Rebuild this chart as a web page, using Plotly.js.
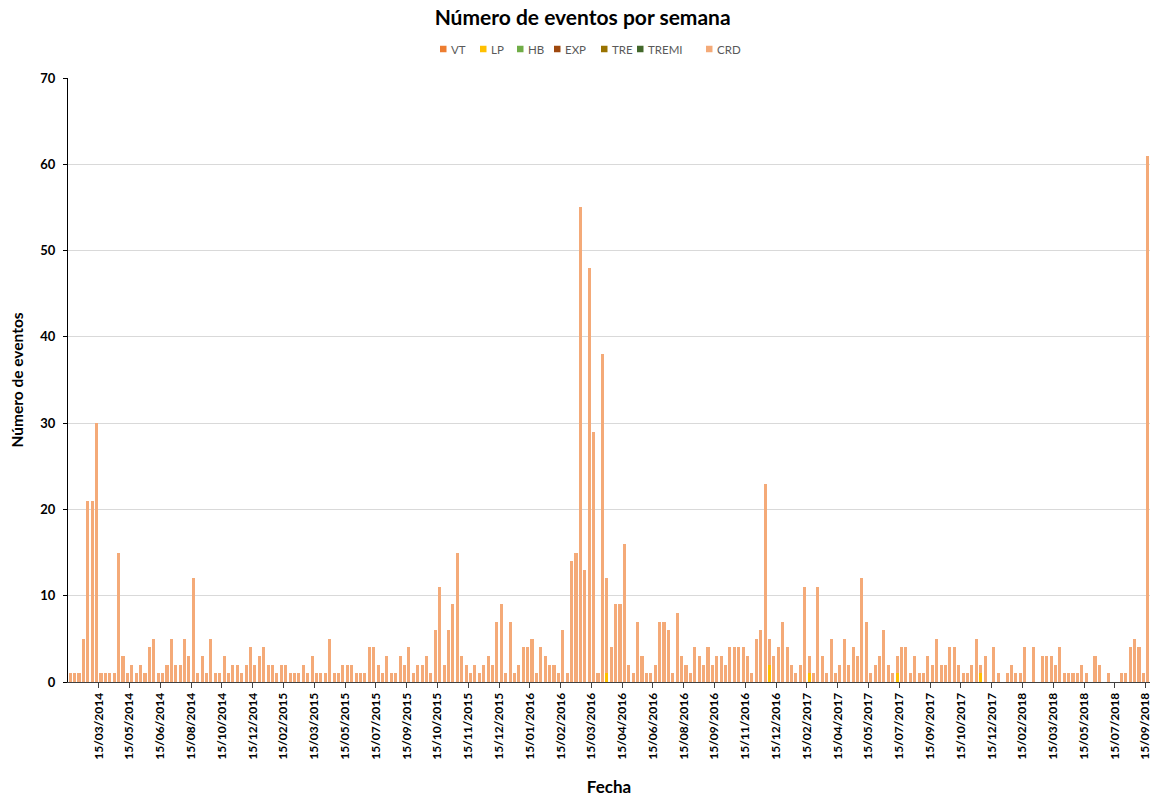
<!DOCTYPE html>
<html>
<head>
<meta charset="utf-8">
<script src="https://cdn.plot.ly/plotly-3.0.1.min.js"></script>
<style>html,body{margin:0;padding:0;background:#fff;}#chart{width:1156px;height:798px;}</style>
</head>
<body>
<div id="chart"></div>
<script>
// Weekly event counts (CRD), 246 weeks
const crdCounts = [
  1,1,1,5,21,21,30,1,1,1,1,15,3,1,2,1,2,1,4,5,1,1,2,5,2,2,5,3,12,1,3,1,5,1,1,3,1,2,2,1,2,4,
  2,3,4,2,2,1,2,2,1,1,1,2,1,3,1,1,1,5,1,1,2,2,2,1,1,1,4,4,2,1,3,1,1,3,2,4,1,2,2,3,1,
  6,11,2,6,9,15,3,2,1,2,1,2,3,2,7,9,1,7,1,2,4,4,5,1,4,3,2,2,1,6,1,14,15,55,13,48,29,1,38,11,4,
  9,9,16,2,1,7,3,1,1,2,7,7,6,1,8,3,2,1,4,3,2,4,2,3,3,2,4,4,4,4,3,1,5,6,23,3,3,4,7,4,2,
  1,2,11,2,1,11,3,1,5,1,2,5,2,4,3,12,7,1,2,3,6,2,1,2,4,4,1,3,1,1,3,2,5,2,2,4,4,2,1,1,2,
  5,1,3,0,4,1,0,1,2,1,1,4,0,4,0,3,3,3,2,4,1,1,1,1,2,1,0,3,2,0,1,0,0,1,1,4,5,4,1,61
];
// LP events (sparse): week index and count
const lpWeeks = [122, 159, 168, 188, 207];
const lpCounts = [1, 2, 1, 1, 1];
const tickLabels = [
  '15/03/2014','15/05/2014','15/06/2014','15/08/2014','15/10/2014','15/12/2014','15/02/2015',
  '15/03/2015','15/05/2015','15/07/2015','15/09/2015','15/10/2015','15/11/2015','15/12/2015',
  '15/01/2016','15/02/2016','15/03/2016','15/04/2016','15/06/2016','15/08/2016','15/09/2016',
  '15/11/2016','15/12/2016','15/02/2017','15/04/2017','15/05/2017','15/07/2017','15/09/2017',
  '15/10/2017','15/12/2017','15/02/2018','15/03/2018','15/05/2018','15/07/2018','15/09/2018'
];
const seriesNames = ['VT','LP','HB','EXP','TRE','TREMI','CRD'];
const seriesColors = ['#ED7D31','#FFC000','#70AD47','#9E480E','#997300','#43682B','#F4AA78'];

const weeks = crdCounts.map((_, i) => i);
// VT, HB, EXP, TRE, TREMI: no events recorded in any week
const noEvents = weeks.map(() => 0);
const weeksPerTick = 7;
const tickVals = tickLabels.map((_, i) => (i + 1) * weeksPerTick - 0.5);

const traces = seriesNames.map((name, s) => {
  let x = weeks, y = noEvents;
  if (name === 'LP') { x = lpWeeks; y = lpCounts; }
  if (name === 'CRD') { x = weeks; y = crdCounts; }
  return {type: 'bar', name: name, x: x, y: y, showlegend: false,
          marker: {color: seriesColors[s], line: {width: 0}}, hoverinfo: 'x+y+name'};
});

// ---- Legend (Excel style: small squares, tight spacing) ----
const W = 1156, H = 798, M = {l: 68, r: 6, t: 78, b: 116};
const plotW = W - M.l - M.r, plotH = H - M.t - M.b;
const px2x = px => (px - M.l) / plotW;
const px2y = py => (H - M.b - py) / plotH;
const legendLeftPx = [440, 480, 517, 554, 601, 637, 706];
const legendCenterY = 49, sq = 6.5;
const FONT = 'Lato, "Liberation Sans", sans-serif';
const shapes = [], annotations = [];
seriesNames.forEach((name, s) => {
  const x0 = legendLeftPx[s];
  shapes.push({type: 'rect', xref: 'paper', yref: 'paper', layer: 'above',
    x0: px2x(x0), x1: px2x(x0 + sq), y0: px2y(legendCenterY + sq / 2), y1: px2y(legendCenterY - sq / 2),
    fillcolor: seriesColors[s], line: {width: 0}});
  annotations.push({xref: 'paper', yref: 'paper', x: px2x(x0 + sq + 3), y: px2y(legendCenterY),
    xanchor: 'left', yanchor: 'middle', showarrow: false, text: name, borderpad: 0,
    font: {size: 11.5, color: '#595959', family: FONT}});
});

const layout = {
  width: W, height: H,
  margin: M,
  paper_bgcolor: '#fff', plot_bgcolor: '#fff',
  barmode: 'stack', bargap: 0.3,
  font: {family: FONT, color: '#000'},
  title: {text: '<b>Número de eventos por semana</b>', font: {size: 21, family: FONT, color: '#000'},
          xref: 'container', x: 0.504, xanchor: 'center', yref: 'container', y: 0.978, yanchor: 'middle'},
  showlegend: false,
  shapes: shapes,
  annotations: annotations,
  xaxis: {
    range: [-0.5, crdCounts.length - 0.5],
    tickmode: 'array', tickvals: tickVals, ticktext: tickLabels.map(t => '<b>' + t + '</b>'),
    tickangle: -90, tickfont: {size: 12, family: FONT, color: '#000'},
    ticks: 'outside', ticklen: 5, tickcolor: '#404040',
    showline: true, linecolor: '#404040', linewidth: 1, showgrid: false, zeroline: false,
    title: {text: '<b>Fecha</b>', font: {size: 17, family: FONT, color: '#000'}, standoff: 22}
  },
  yaxis: {
    range: [0, 70], dtick: 10, tick0: 0,
    tickfont: {size: 13, family: FONT, color: '#000'},
    ticks: 'outside', ticklen: 4, tickcolor: '#000', ticklabelstandoff: 5,
    showline: true, linecolor: '#000', linewidth: 1,
    showgrid: true, gridcolor: '#D9D9D9', gridwidth: 1, zeroline: false,
    tickprefix: '<b>', ticksuffix: '</b>',
    title: {text: '<b>Número de eventos</b>', font: {size: 15.5, family: FONT, color: '#000'}, standoff: 12}
  }
};
Plotly.newPlot('chart', traces, layout, {displayModeBar: false, staticPlot: true});
</script>
</body>
</html>
